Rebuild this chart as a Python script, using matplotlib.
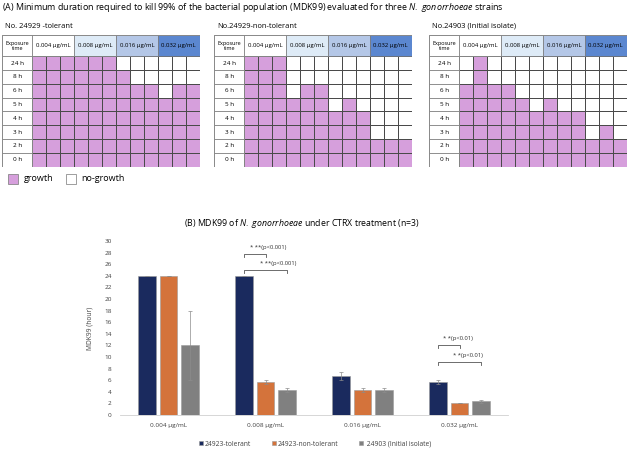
import matplotlib
matplotlib.use('Agg')
import matplotlib.pyplot as plt
import numpy as np
from matplotlib.colors import ListedColormap
from matplotlib.patches import Rectangle

plt.rcParams['font.family'] = ['Open Sans', 'DejaVu Sans']
plt.rcParams['mathtext.fontset'] = 'custom'
plt.rcParams['mathtext.rm'] = 'Open Sans'
plt.rcParams['mathtext.it'] = 'Open Sans:italic'

# ---- data: panel A (last exposure time with growth, per replicate column) ----
time_labels = ['24 h', '8 h', '6 h', '5 h', '4 h', '3 h', '2 h', '0 h']
hours = [24, 8, 6, 5, 4, 3, 2, 0]
conc_labels = ['0.004 µg/mL', '0.008 µg/mL', '0.016 µg/mL', '0.032 µg/mL']
strain_titles = ['No. 24929 -tolerant', 'No.24929-non-tolerant', 'No.24903 (Initial isolate)']
last_growth_tolerant = [24, 24, 24, 24, 24, 24, 8, 6, 6, 5, 6, 6]
last_growth_nontolerant = [24, 24, 24, 5, 6, 6, 4, 5, 4, 2, 2, 2]
last_growth_initial = [6, 24, 6, 6, 5, 4, 5, 4, 4, 2, 3, 2]

# ---- data: panel B ----
bar_groups = ['0.004 µg/mL', '0.008 µg/mL', '0.016 µg/mL', '0.032 µg/mL']
series_names = ['24923-tolerant', '24923-non-tolerant', ' 24903 (Initial isolate)']
mdk_tolerant = [24, 24, 6.67, 5.67]
mdk_nontolerant = [24, 5.67, 4.33, 2.0]
mdk_initial = [12, 4.33, 4.33, 2.33]
err_tolerant = [0, 0, 0.67, 0.33]
err_nontolerant = [0, 0.33, 0.33, 0]
err_initial = [6, 0.33, 0.33, 0.33]

growth_color = '#d69fdc'
header_colors = ['white', '#deebf7', '#b4c7e7', '#5b87d0']
bar_colors = ['#1a2a5e', '#d4733b', '#808080']

W, H = 628, 449
fig = plt.figure(figsize=(W / 100, H / 100), dpi=100)


def px_axes(left, top, w, h):
    return fig.add_axes([left / W, 1 - (top + h) / H, w / W, h / H])


fig.text(2 / W, 1 - 8 / H,
         r'(A) Minimum duration required to kill 99% of the bacterial population (MDK99) evaluated for three $\it{N.\ gonorrhoeae}$ strains',
         fontsize=6.4, va='center', ha='left')

grid_left = [2, 214, 429]
lab_w, cw, hh = 30, 14, 21
gh = 132
rh = (gh - hh) / 8
for k, last in enumerate([last_growth_tolerant, last_growth_nontolerant, last_growth_initial]):
    fig.text((grid_left[k] + 3) / W, 1 - 26 / H, strain_titles[k], fontsize=5.4, va='center')
    ax = px_axes(grid_left[k], 35, 198, gh)
    ax.set_xlim(-0.5, 198.5)
    ax.set_ylim(gh + 0.5, -0.5)
    ax.axis('off')
    growth = np.array([[1 if h <= m else 0 for m in last] for h in hours])
    xe = lab_w + cw * np.arange(13)
    ye = hh + rh * np.arange(9)
    # white cells with light borders, growth cells with dark borders on top
    ax.pcolormesh(xe, ye, np.zeros_like(growth), cmap=ListedColormap(['white']),
                  edgecolors='#b0b0b0', linewidth=0.5)
    ax.pcolormesh(xe, ye, np.ma.masked_where(growth == 0, growth),
                  cmap=ListedColormap([growth_color]), edgecolors='#4a4a4a', linewidth=0.5)
    # header
    ax.add_patch(Rectangle((0, 0), lab_w, hh, facecolor='white', edgecolor='#777777', lw=0.5))
    ax.text(lab_w / 2, hh / 2, 'Exposure\ntime', fontsize=4, ha='center', va='center', linespacing=1.1)
    for c in range(4):
        x0 = lab_w + c * 3 * cw
        ax.add_patch(Rectangle((x0, 0), 3 * cw, hh, facecolor=header_colors[c],
                               edgecolor='#777777', lw=0.5))
        ax.text(x0 + 1.5 * cw, hh / 2, conc_labels[c], fontsize=4.3, ha='center', va='center')
    for r, lab in enumerate(time_labels):
        ax.add_patch(Rectangle((0, hh + r * rh), lab_w, rh, facecolor='white',
                               edgecolor='#777777', lw=0.5))
        ax.text(lab_w / 2, hh + (r + 0.5) * rh, lab, fontsize=4.6, ha='center', va='center')
    ax.add_patch(Rectangle((0, 0), 198, gh, fill=False, edgecolor='#888888', lw=0.6))

# legend for panel A
leg = px_axes(0, 170, 200, 18)
leg.set_xlim(0, 200)
leg.set_ylim(18, 0)
leg.axis('off')
leg.add_patch(Rectangle((8, 3.5), 10, 10, facecolor=growth_color, edgecolor='#777777', lw=0.5))
leg.text(24, 8.5, 'growth', fontsize=6.5, va='center')
leg.add_patch(Rectangle((66, 3.5), 10, 10, facecolor='white', edgecolor='#777777', lw=0.5))
leg.text(81, 8.5, 'no-growth', fontsize=6.5, va='center')

# ---- panel B ----
fig.text(302 / W, 1 - 223 / H,
         r'(B) MDK99 of $\it{N.\ gonorrhoeae}$ under CTRX treatment (n=3)',
         fontsize=6.3, ha='center', va='center')

bx = px_axes(120, 241, 388, 174)
x = np.arange(len(bar_groups))
offs = [-0.22, 0, 0.22]
handles = []
for i, (vals, errs) in enumerate([(mdk_tolerant, err_tolerant),
                                  (mdk_nontolerant, err_nontolerant),
                                  (mdk_initial, err_initial)]):
    b = bx.bar(x + offs[i], vals, width=0.18, color=bar_colors[i], edgecolor='#9a9a9a',
               linewidth=0.4, label=series_names[i], zorder=2)
    bx.errorbar(x + offs[i], vals, yerr=errs, fmt='none', ecolor='#8c8c8c',
                elinewidth=0.5, capsize=1.5, capthick=0.5, zorder=3)
    handles.append(b)

bx.set_xlim(-0.5, 3.5)
bx.set_ylim(0, 30)
bx.set_yticks(np.arange(0, 31, 2))
bx.set_xticks(x)
bx.set_xticklabels(bar_groups)
bx.tick_params(axis='both', length=0, labelsize=4.6, colors='#404040', pad=6)
for s in ['top', 'right', 'left']:
    bx.spines[s].set_visible(False)
bx.spines['bottom'].set_color('#d0d0d0')
bx.spines['bottom'].set_linewidth(0.6)
bx.set_ylabel('MDK99 (hour)', fontsize=4.8, color='#404040', labelpad=8)

# significance brackets
sig = [(1, 0, 1, 27.7, 0.84, 28.8, '* **(p<0.001)'),
       (1, 0, 2, 25.0, 0.94, 26.2, '* **(p<0.001)'),
       (3, 0, 1, 12.0, 2.83, 13.2, '* *(p<0.01)'),
       (3, 0, 2, 9.2, 2.93, 10.2, '* *(p<0.01)')]
for g, a, b2, yb, xt, yt, txt in sig:
    x1, x2 = g + offs[a], g + offs[b2]
    bx.plot([x1, x1, x2, x2], [yb - 0.5, yb, yb, yb - 0.5], color='#555555', lw=0.6)
    bx.text(xt, yt, txt, fontsize=4.2, ha='left', va='center', color='#333333')

fig.legend(handles=handles, loc='center', bbox_to_anchor=(315 / W, 1 - 444 / H), ncol=3,
           fontsize=4.8, frameon=False, handlelength=0.6, handleheight=0.6,
           handletextpad=0.2, columnspacing=3.2, labelcolor='#404040')

fig.savefig('out.png', dpi=100)
